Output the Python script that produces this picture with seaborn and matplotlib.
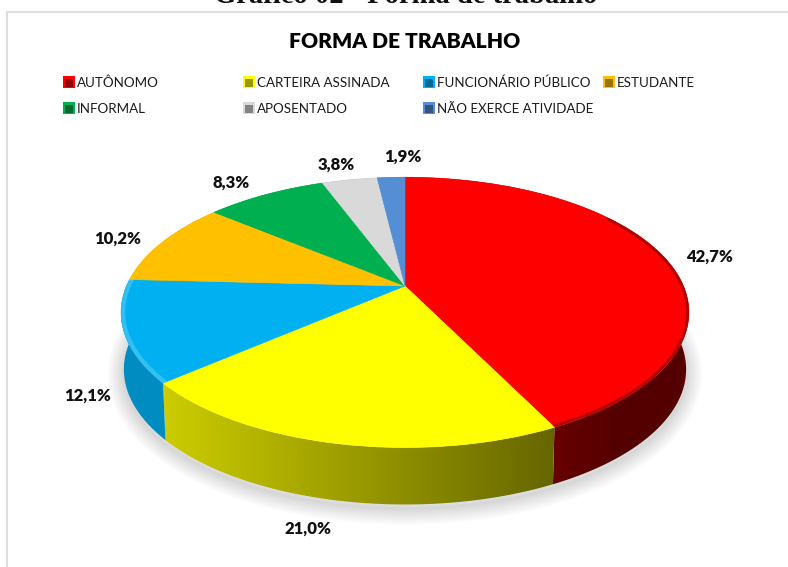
import numpy as np
import matplotlib.pyplot as plt
import matplotlib.transforms as mtransforms
import seaborn as sns

categories = ['AUTÔNOMO', 'CARTEIRA ASSINADA', 'FUNCIONÁRIO PÚBLICO', 'ESTUDANTE',
              'INFORMAL', 'APOSENTADO', 'NÃO EXERCE ATIVIDADE']
values = [42.7, 21.0, 12.1, 10.2, 8.3, 3.8, 1.9]
hex_colors = ['#FF0000', '#FFFF00', '#00B0F0', '#FFC000', '#00B050', '#D9D9D9', '#558ED5']

sns.set_theme(style='white')
plt.rcParams['font.family'] = ['Lato', 'DejaVu Sans']
colors = sns.color_palette(hex_colors)

# pie placement in pixels, the tilt makes the centre sit above the ellipse middle
CX, CY = 405, 286
RX, RY = 278.5, 130
TILT = 0.195
DEPTH = 57
BOTTOM_SCALE = 0.99


class Tilt(mtransforms.Transform):
    input_dims = 2
    output_dims = 2

    def transform_non_affine(self, xy):
        xy = np.asarray(xy)
        w = 1 + TILT * xy[:, 1]
        return np.column_stack([CX + RX * xy[:, 0] / w, CY - RY * xy[:, 1] / w])


def rim(theta1, theta2):
    t = np.radians(np.linspace(theta1, theta2, 120))
    return Tilt().transform_non_affine(np.column_stack([np.sin(t), np.cos(t)]))


def lower(points):
    # same rim seen lower down, slightly narrower
    out = points + [0, DEPTH]
    out[:, 0] = CX + (out[:, 0] - CX) * BOTTOM_SCALE
    return out


fig = plt.figure(figsize=(7.88, 5.67), dpi=100)
ax = fig.add_axes([0, 0, 1, 1])

# soft shadow under the pie
outline = lower(rim(0, 360))
for lw in range(2, 26, 3):
    ax.fill(outline[:, 0], outline[:, 1] + 4, facecolor='none', edgecolor='black',
            alpha=0.02, lw=lw, joinstyle='round', zorder=1)

# side wall, darker to the right
shade = np.clip(0.8 - (np.arange(788) - 165) / 388 * 0.4, 0.33, 0.8)
edges = np.cumsum([0] + values) * 3.6
for i, c in enumerate(colors):
    top = rim(edges[i], edges[i + 1])
    bottom = lower(top)[::-1]
    poly = ax.fill(*np.vstack([top, bottom]).T, color='none', lw=0, zorder=2)[0]
    strip = np.array(c)[None, None, :] * shade[None, :, None]
    im = ax.imshow(strip, extent=(0, 788, 567, 0), aspect='auto', zorder=2)
    im.set_clip_path(poly)

# top face
wedges, _ = ax.pie(values, colors=colors, startangle=90, counterclock=False,
                   wedgeprops={'linewidth': 0, 'zorder': 3})
for w in wedges:
    w.set_transform(Tilt() + ax.transData)
    w.set_edgecolor(w.get_facecolor())
    w.set_linewidth(0.4)

# bevel on the rim, kept inside its slice: dark on the red one, light on the blue one
dark_rim = rim(55, edges[1])
line = ax.plot(dark_rim[:, 0], dark_rim[:, 1], color='black', alpha=0.3, lw=4, zorder=4)[0]
line.set_clip_path(wedges[0])
light_rim = rim(edges[2], edges[3])
line = ax.plot(light_rim[:, 0], light_rim[:, 1], color='white', alpha=0.2, lw=6, zorder=4)[0]
line.set_clip_path(wedges[2])

ax.set_aspect('auto')
ax.set_xlim(0, 788)
ax.set_ylim(567, 0)
ax.axis('off')

# chart frame
ax.plot([7, 7, 788], [567, 12, 12], color='#DEDEDE', lw=1.5, zorder=1)

ax.text(406, 3, 'Gráfico 02 - Forma de trabalho', ha='center', va='baseline', fontsize=20.6,
        fontweight='bold', family=['Liberation Serif'], color='#111111')
ax.text(405, 41, 'FORMA DE TRABALHO', ha='center', va='center', fontsize=15.1,
        fontweight='heavy', color='black')

# legend, four fixed columns
leg_x = [69, 249, 429, 609, 69, 249, 429]
leg_y = [82, 82, 82, 82, 108, 108, 108]
for x, y, name, c in zip(leg_x, leg_y, categories, colors):
    ax.scatter([x], [y], marker='s', s=72, color=[c], lw=0, zorder=5)
    ax.scatter([x + 0.5], [y + 0.5], marker='s', s=26, color=[np.array(c) * 0.6], lw=0, zorder=6)
    ax.text(x + 8, y + 0.7, name, ha='left', va='center', fontsize=9.6, color='#1A1A1A')

# data labels
label_x = [710, 308, 88, 118, 231, 336, 403]
label_y = [256, 528, 395, 238, 182, 164, 156]
for x, y, v in zip(label_x, label_y, values):
    ax.text(x, y + 1, f'{v:.1f}%'.replace('.', ','), ha='center', va='center', fontsize=12,
            fontweight='heavy', color='#111111')

fig.savefig('out.png', dpi=100)
